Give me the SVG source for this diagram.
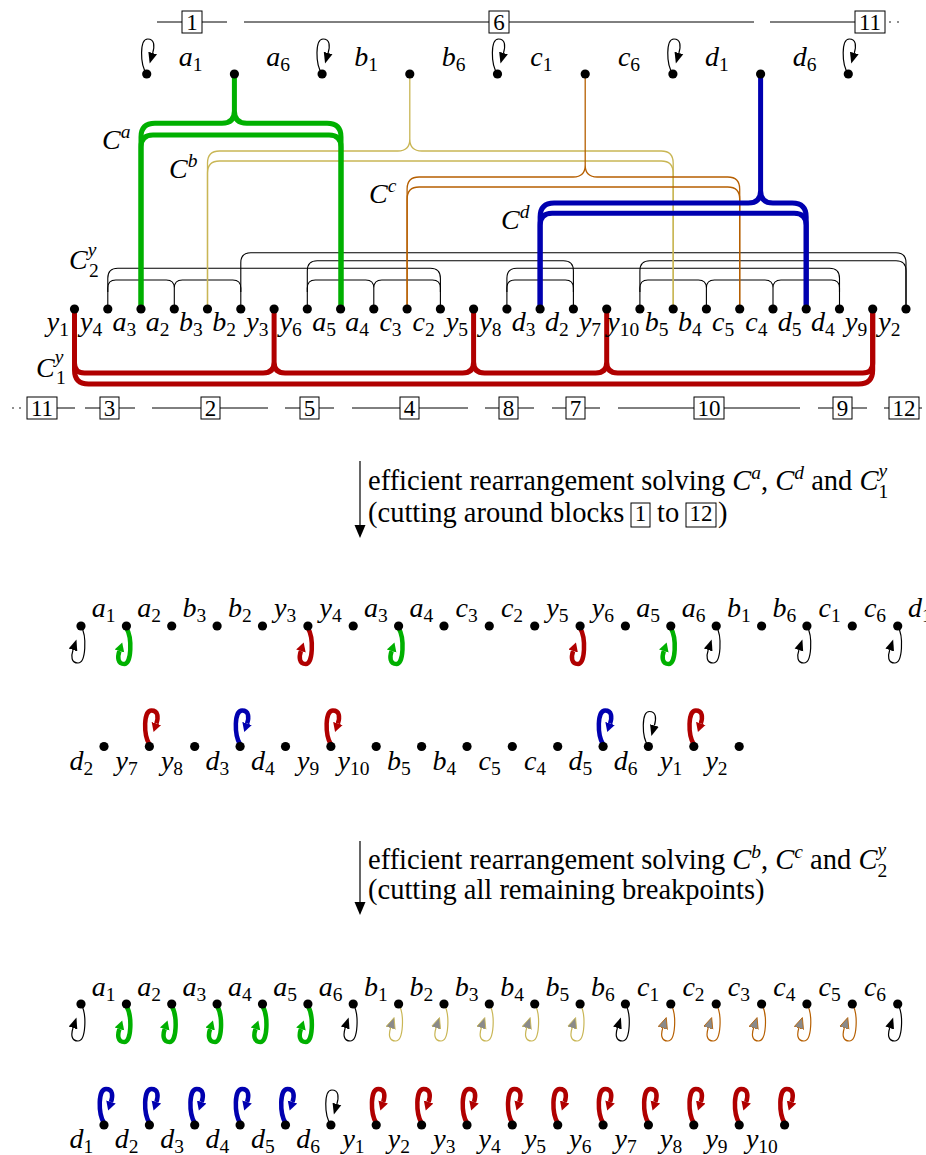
<svg xmlns="http://www.w3.org/2000/svg" width="926" height="1155" viewBox="0 0 926 1155">
<style>
.m{font-family:"Liberation Serif",serif;font-style:italic;font-size:28px;fill:#000}
.lab{text-anchor:middle}
.s{font-style:normal;font-size:19.5px}
.si{font-style:italic;font-size:19.5px}
.r{font-family:"Liberation Serif",serif;font-size:28.5px;fill:#000}
.i{font-style:italic}
.bx{fill:#fff;stroke:#000;stroke-width:1}
.bn{font-family:"Liberation Serif",serif;font-size:23px;text-anchor:middle;fill:#000}
.bl{stroke:#000;stroke-width:1;fill:none}
.ck{fill:none;stroke:#000;stroke-width:1.1}
.cy{fill:none;stroke:#c9b655;stroke-width:1.3}
.co{fill:none;stroke:#b65f00;stroke-width:1.3}
.cg{fill:none;stroke:#00b000;stroke-width:5}
.cb{fill:none;stroke:#0000b0;stroke-width:5}
.cr{fill:none;stroke:#b00000;stroke-width:5}
.lk{fill:none;stroke:#000;stroke-width:1.2;marker-end:url(#ak)}
.lg{fill:none;stroke:#00b000;stroke-width:4.5;marker-end:url(#ag)}
.lr{fill:none;stroke:#b00000;stroke-width:4.5;marker-end:url(#ar)}
.lB{fill:none;stroke:#0000b0;stroke-width:4.5;marker-end:url(#ab)}
.ly{fill:none;stroke:#c9b655;stroke-width:1.2;marker-end:url(#ay)}
.lo{fill:none;stroke:#b65f00;stroke-width:1.2;marker-end:url(#ao)}
.fa{stroke:#000;stroke-width:1.2;fill:none}
</style>
<defs>
<circle id="dot" r="4.6" fill="#000"/>
<path id="lu" d="M0,0 C-7,-10 -7,-35 1,-35 C8,-35 8,-28 6,-21"/>
<path id="ld" d="M0,0 C6,10 5,37 -3,37 C-10,37 -10,30 -8,24"/>
<path id="luT" d="M0,-2 C-6,-12 -6,-36 2,-36 C9,-36 9,-29 7,-23"/>
<path id="ldT" d="M0,2 C6,12 5,38 -2,38 C-9,38 -9,31 -7,25"/>
<marker id="ak" markerUnits="userSpaceOnUse" markerWidth="14" markerHeight="12" viewBox="0 -6 14 12" refX="0" refY="0" orient="auto"><path d="M0,-4.5 L11,0 L0,4.5 z" fill="#000"/></marker>
<marker id="ag" markerUnits="userSpaceOnUse" markerWidth="14" markerHeight="12" viewBox="0 -6 14 12" refX="0" refY="0" orient="auto"><path d="M0,-5 L9,0 L0,5 z" fill="#00b000"/></marker>
<marker id="ar" markerUnits="userSpaceOnUse" markerWidth="14" markerHeight="12" viewBox="0 -6 14 12" refX="0" refY="0" orient="auto"><path d="M0,-5 L9,0 L0,5 z" fill="#b00000"/></marker>
<marker id="ab" markerUnits="userSpaceOnUse" markerWidth="14" markerHeight="12" viewBox="0 -6 14 12" refX="0" refY="0" orient="auto"><path d="M0,-5 L9,0 L0,5 z" fill="#0000b0"/></marker>
<marker id="ay" markerUnits="userSpaceOnUse" markerWidth="14" markerHeight="12" viewBox="0 -6 14 12" refX="0" refY="0" orient="auto"><path d="M0,-4.8 L11,0 L0,4.8 z" fill="#8a8a8a" stroke="#c9b655" stroke-width="0.8"/></marker>
<marker id="ao" markerUnits="userSpaceOnUse" markerWidth="14" markerHeight="12" viewBox="0 -6 14 12" refX="0" refY="0" orient="auto"><path d="M0,-4.8 L11,0 L0,4.8 z" fill="#8a8a8a" stroke="#b65f00" stroke-width="0.8"/></marker>
</defs>

<!-- ===== Blocks (top) ===== -->
<g id="blocks-top">
<path class="bl" d="M157,22 H227 M244,22 H754 M770,22 H885"/>
<rect class="bx" x="182" y="11" width="20" height="22"/><text class="bn" x="192" y="29.5">1</text>
<rect class="bx" x="489" y="11" width="20" height="22"/><text class="bn" x="499" y="29.5">6</text>
<rect class="bx" x="855" y="11" width="30" height="22"/><text class="bn" x="870" y="29.5">11</text>
<circle cx="890" cy="22" r="0.8"/><circle cx="898" cy="22" r="0.8"/>
</g>

<!-- ===== Blocks (bottom) ===== -->
<g id="blocks-bottom">
<circle cx="13" cy="408" r="0.8"/><circle cx="20" cy="408" r="0.8"/>
<path class="bl" d="M27,408 H75 M85,408 H135 M152,408 H268 M285,408 H334 M352,408 H468 M485,408 H534 M552,408 H600 M618,408 H800 M818,408 H867 M884,408 H922"/>
<rect class="bx" x="27" y="397" width="30" height="22"/><text class="bn" x="42" y="415.5">11</text>
<rect class="bx" x="100" y="397" width="19" height="22"/><text class="bn" x="109.5" y="415.5">3</text>
<rect class="bx" x="201" y="397" width="19" height="22"/><text class="bn" x="210.5" y="415.5">2</text>
<rect class="bx" x="300" y="397" width="19" height="22"/><text class="bn" x="309.5" y="415.5">5</text>
<rect class="bx" x="400" y="397" width="19" height="22"/><text class="bn" x="409.5" y="415.5">4</text>
<rect class="bx" x="499" y="397" width="19" height="22"/><text class="bn" x="508.5" y="415.5">8</text>
<rect class="bx" x="566" y="397" width="19" height="22"/><text class="bn" x="575.5" y="415.5">7</text>
<rect class="bx" x="694" y="397" width="30" height="22"/><text class="bn" x="709" y="415.5">10</text>
<rect class="bx" x="833" y="397" width="19" height="22"/><text class="bn" x="842.5" y="415.5">9</text>
<rect class="bx" x="889" y="397" width="30" height="22"/><text class="bn" x="904" y="415.5">12</text>
</g>

<!-- ===== Connectors (cycles) ===== -->
<g id="connectors">
<g id="C2y">
<path class="ck" d="M107.8,309 V288 Q107.8,280 115.8,280 H166.3 Q174.3,280 174.3,288 V309 M174.3,288 Q174.3,280 182.3,280 H232.8 Q240.8,280 240.8,288 V309"/>
<path class="ck" d="M307.3,309 V288 Q307.3,280 315.3,280 H365.8 Q373.8,280 373.8,288 V309 M373.8,288 Q373.8,280 381.8,280 H432.4 Q440.4,280 440.4,288 V309"/>
<path class="ck" d="M506.9,309 V288 Q506.9,280 514.9,280 H565.4 Q573.4,280 573.4,288 V309"/>
<path class="ck" d="M639.9,309 V288 Q639.9,280 647.9,280 H698.4 Q706.4,280 706.4,288 V309 M706.4,288 Q706.4,280 714.4,280 H765 Q773,280 773,288 V309 M773,288 Q773,280 781,280 H831.5 Q839.5,280 839.5,288 V309"/>
<path class="ck" d="M107.8,292 V278.3 Q107.8,268.3 117.8,268.3 H430.4 Q440.4,268.3 440.4,278.3 V292"/>
<path class="ck" d="M506.9,292 V278.3 Q506.9,268.3 516.9,268.3 H829.5 Q839.5,268.3 839.5,278.3 V292"/>
<path class="ck" d="M307.3,292 V270.7 Q307.3,260.7 317.3,260.7 H563.4 Q573.4,260.7 573.4,270.7 V292"/>
<path class="ck" d="M639.9,292 V270.7 Q639.9,260.7 649.9,260.7 H896 Q906,260.7 906,270.7 V309"/>
<path class="ck" d="M240.8,292 V262.7 Q240.8,252.7 250.8,252.7 H896 Q906,252.7 906,262.7 V309"/>
</g>
<g id="Cb">
<path class="cy" d="M207.5,309 V163 Q207.5,151 219.5,151 H397.8 Q409.8,151 409.8,139 V74 M409.8,139 Q409.8,151 421.8,151 H661.2 Q673.2,151 673.2,163 V309"/>
<path class="cy" d="M207.5,309 V173 Q207.5,161 219.5,161 H661.2 Q673.2,161 673.2,173 V309"/>
</g>
<g id="Cc">
<path class="co" d="M407.1,309 V189 Q407.1,177 419.1,177 H573.2 Q585.2,177 585.2,165 V74 M585.2,165 Q585.2,177 597.2,177 H727.7 Q739.7,177 739.7,189 V309"/>
<path class="co" d="M407.1,309 V199 Q407.1,187 419.1,187 H727.7 Q739.7,187 739.7,199 V309"/>
</g>
<g id="Ca">
<path class="cg" d="M141,309 V137 Q141,123.3 155,123.3 H222 Q234.4,123.3 234.4,111 V74 M234.4,111 Q234.4,123.3 246.8,123.3 H327 Q341,123.3 341,137 V309"/>
<path class="cg" d="M141,309 V147 Q141,135 153,135 H329 Q341,135 341,147 V309"/>
</g>
<g id="Cd">
<path class="cb" d="M540.1,309 V217 Q540.1,203 554.1,203 H748.3 Q760.6,203 760.6,190.7 V74 M760.6,190.7 Q760.6,203 772.9,203 H792.2 Q806.2,203 806.2,217 V309"/>
<path class="cb" d="M540.1,309 V225.3 Q540.1,213.3 552.1,213.3 H794.2 Q806.2,213.3 806.2,225.3 V309"/>
</g>
<g id="C1y">
<path class="cr" d="M74.5,309 V363 Q74.5,373 84.5,373 H263.1 Q274.1,373 274.1,362 V309 M274.1,362 Q274.1,373 285.1,373 H462.6 Q473.6,373 473.6,362 V309 M473.6,362 Q473.6,373 484.6,373 H595.7 Q606.7,373 606.7,362 V309 M606.7,362 Q606.7,373 617.7,373 H862.7 Q872.7,373 872.7,363 V309"/>
<path class="cr" d="M74.5,309 V370 Q74.5,384 88.5,384 H858.7 Q872.7,384 872.7,370 V309"/>
</g>
</g>

<!-- cycle labels -->
<g id="cycle-labels" class="m">
<text x="102" y="149">C<tspan class="si" dy="-11">a</tspan></text>
<text x="169" y="177.5">C<tspan class="si" dy="-11">b</tspan></text>
<text x="369" y="202.5">C<tspan class="si" dy="-11">c</tspan></text>
<text x="501" y="229">C<tspan class="si" dy="-11">d</tspan></text>
<text x="69" y="269">C<tspan class="si" dy="-13">y</tspan><tspan class="s" x="89" dy="21">2</tspan></text>
<text x="36" y="377">C<tspan class="si" dy="-14">y</tspan><tspan class="s" x="56" dy="21">1</tspan></text>
</g>

<!-- ===== Top genome ===== -->
<g id="top-genome">
<g id="t0"><use href="#lu" x="146.7" y="74" class="lk"/><use href="#dot" x="146.7" y="74"/><text class="m lab" x="190.5" y="66">a<tspan class="s" dy="5">1</tspan></text></g>
<g id="t1"><use href="#dot" x="234.4" y="74"/><text class="m lab" x="278.2" y="66">a<tspan class="s" dy="5">6</tspan></text></g>
<g id="t2"><use href="#lu" x="322.1" y="74" class="lk"/><use href="#dot" x="322.1" y="74"/><text class="m lab" x="366" y="66">b<tspan class="s" dy="5">1</tspan></text></g>
<g id="t3"><use href="#dot" x="409.8" y="74"/><text class="m lab" x="453.7" y="66">b<tspan class="s" dy="5">6</tspan></text></g>
<g id="t4"><use href="#lu" x="497.5" y="74" class="lk"/><use href="#dot" x="497.5" y="74"/><text class="m lab" x="541.3" y="66">c<tspan class="s" dy="5">1</tspan></text></g>
<g id="t5"><use href="#dot" x="585.2" y="74"/><text class="m lab" x="629" y="66">c<tspan class="s" dy="5">6</tspan></text></g>
<g id="t6"><use href="#lu" x="672.9" y="74" class="lk"/><use href="#dot" x="672.9" y="74"/><text class="m lab" x="716.8" y="66">d<tspan class="s" dy="5">1</tspan></text></g>
<g id="t7"><use href="#dot" x="760.6" y="74"/><text class="m lab" x="804.5" y="66">d<tspan class="s" dy="5">6</tspan></text></g>
<g id="t8"><use href="#lu" x="848.3" y="74" class="lk"/><use href="#dot" x="848.3" y="74"/></g>
</g>

<!-- ===== Bottom genome ===== -->
<g id="bottom-genome">
<g id="b0"><use href="#dot" x="74.5" y="309"/><text class="m lab" x="57.9" y="331">y<tspan class="s" dy="5">1</tspan></text></g>
<g id="b1"><use href="#dot" x="107.8" y="309"/><text class="m lab" x="91.1" y="331">y<tspan class="s" dy="5">4</tspan></text></g>
<g id="b2"><use href="#dot" x="141" y="309"/><text class="m lab" x="124.4" y="331">a<tspan class="s" dy="5">3</tspan></text></g>
<g id="b3"><use href="#dot" x="174.3" y="309"/><text class="m lab" x="157.7" y="331">a<tspan class="s" dy="5">2</tspan></text></g>
<g id="b4"><use href="#dot" x="207.5" y="309"/><text class="m lab" x="190.9" y="331">b<tspan class="s" dy="5">3</tspan></text></g>
<g id="b5"><use href="#dot" x="240.8" y="309"/><text class="m lab" x="224.2" y="331">b<tspan class="s" dy="5">2</tspan></text></g>
<g id="b6"><use href="#dot" x="274.1" y="309"/><text class="m lab" x="257.4" y="331">y<tspan class="s" dy="5">3</tspan></text></g>
<g id="b7"><use href="#dot" x="307.3" y="309"/><text class="m lab" x="290.7" y="331">y<tspan class="s" dy="5">6</tspan></text></g>
<g id="b8"><use href="#dot" x="340.6" y="309"/><text class="m lab" x="324" y="331">a<tspan class="s" dy="5">5</tspan></text></g>
<g id="b9"><use href="#dot" x="373.8" y="309"/><text class="m lab" x="357.2" y="331">a<tspan class="s" dy="5">4</tspan></text></g>
<g id="b10"><use href="#dot" x="407.1" y="309"/><text class="m lab" x="390.5" y="331">c<tspan class="s" dy="5">3</tspan></text></g>
<g id="b11"><use href="#dot" x="440.4" y="309"/><text class="m lab" x="423.7" y="331">c<tspan class="s" dy="5">2</tspan></text></g>
<g id="b12"><use href="#dot" x="473.6" y="309"/><text class="m lab" x="457" y="331">y<tspan class="s" dy="5">5</tspan></text></g>
<g id="b13"><use href="#dot" x="506.9" y="309"/><text class="m lab" x="490.3" y="331">y<tspan class="s" dy="5">8</tspan></text></g>
<g id="b14"><use href="#dot" x="540.1" y="309"/><text class="m lab" x="523.5" y="331">d<tspan class="s" dy="5">3</tspan></text></g>
<g id="b15"><use href="#dot" x="573.4" y="309"/><text class="m lab" x="556.8" y="331">d<tspan class="s" dy="5">2</tspan></text></g>
<g id="b16"><use href="#dot" x="606.7" y="309"/><text class="m lab" x="590" y="331">y<tspan class="s" dy="5">7</tspan></text></g>
<g id="b17"><use href="#dot" x="639.9" y="309"/><text class="m lab" x="623.3" y="331">y<tspan class="s" dy="5">10</tspan></text></g>
<g id="b18"><use href="#dot" x="673.2" y="309"/><text class="m lab" x="656.6" y="331">b<tspan class="s" dy="5">5</tspan></text></g>
<g id="b19"><use href="#dot" x="706.4" y="309"/><text class="m lab" x="689.8" y="331">b<tspan class="s" dy="5">4</tspan></text></g>
<g id="b20"><use href="#dot" x="739.7" y="309"/><text class="m lab" x="723.1" y="331">c<tspan class="s" dy="5">5</tspan></text></g>
<g id="b21"><use href="#dot" x="773" y="309"/><text class="m lab" x="756.3" y="331">c<tspan class="s" dy="5">4</tspan></text></g>
<g id="b22"><use href="#dot" x="806.2" y="309"/><text class="m lab" x="789.6" y="331">d<tspan class="s" dy="5">5</tspan></text></g>
<g id="b23"><use href="#dot" x="839.5" y="309"/><text class="m lab" x="822.9" y="331">d<tspan class="s" dy="5">4</tspan></text></g>
<g id="b24"><use href="#dot" x="872.7" y="309"/><text class="m lab" x="856.1" y="331">y<tspan class="s" dy="5">9</tspan></text></g>
<g id="b25"><use href="#dot" x="906" y="309"/><text class="m lab" x="889.4" y="331">y<tspan class="s" dy="5">2</tspan></text></g>
</g>

<!-- ===== Flow arrow 1 ===== -->
<g id="step1">
<line class="fa" x1="360" y1="461" x2="360" y2="527"/>
<path d="M354.5,525 L365.5,525 L360,538 z" fill="#000"/>
<text class="r" x="368" y="490">efficient rearrangement solving <tspan class="i">C</tspan><tspan class="si" dy="-11">a</tspan><tspan dy="11">, </tspan><tspan class="i">C</tspan><tspan class="si" dy="-11">d</tspan><tspan dy="11"> and </tspan><tspan class="i">C</tspan><tspan class="si" dy="-13">y</tspan><tspan class="s" dx="-8.6" dy="21">1</tspan></text>
<text class="r" x="368" y="522">(cutting around blocks</text>
<rect class="bx" x="631" y="503" width="19" height="24"/><text class="bn" x="640.5" y="521">1</text>
<text class="r" x="657" y="522">to</text>
<rect class="bx" x="686" y="503" width="30" height="24"/><text class="bn" x="701" y="521">12</text>
<text class="r" x="718" y="522">)</text>
</g>

<!-- ===== Intermediate genome, row 1 ===== -->
<g id="mid-row1">
<g id="m0"><use href="#ld" x="81" y="626" class="lk"/><use href="#dot" x="81" y="626"/><text class="m lab" x="103.7" y="617">a<tspan class="s" dy="5">1</tspan></text></g>
<g id="m1"><use href="#ldT" x="126.4" y="626" class="lg"/><use href="#dot" x="126.4" y="626"/><text class="m lab" x="149.1" y="617">a<tspan class="s" dy="5">2</tspan></text></g>
<g id="m2"><use href="#dot" x="171.7" y="626"/><text class="m lab" x="194.4" y="617">b<tspan class="s" dy="5">3</tspan></text></g>
<g id="m3"><use href="#dot" x="217.1" y="626"/><text class="m lab" x="239.8" y="617">b<tspan class="s" dy="5">2</tspan></text></g>
<g id="m4"><use href="#dot" x="262.5" y="626"/><text class="m lab" x="285.2" y="617">y<tspan class="s" dy="5">3</tspan></text></g>
<g id="m5"><use href="#ldT" x="307.9" y="626" class="lr"/><use href="#dot" x="307.9" y="626"/><text class="m lab" x="330.6" y="617">y<tspan class="s" dy="5">4</tspan></text></g>
<g id="m6"><use href="#dot" x="353.2" y="626"/><text class="m lab" x="375.9" y="617">a<tspan class="s" dy="5">3</tspan></text></g>
<g id="m7"><use href="#ldT" x="398.6" y="626" class="lg"/><use href="#dot" x="398.6" y="626"/><text class="m lab" x="421.3" y="617">a<tspan class="s" dy="5">4</tspan></text></g>
<g id="m8"><use href="#dot" x="444" y="626"/><text class="m lab" x="466.7" y="617">c<tspan class="s" dy="5">3</tspan></text></g>
<g id="m9"><use href="#dot" x="489.3" y="626"/><text class="m lab" x="512" y="617">c<tspan class="s" dy="5">2</tspan></text></g>
<g id="m10"><use href="#dot" x="534.7" y="626"/><text class="m lab" x="557.4" y="617">y<tspan class="s" dy="5">5</tspan></text></g>
<g id="m11"><use href="#ldT" x="580.1" y="626" class="lr"/><use href="#dot" x="580.1" y="626"/><text class="m lab" x="602.8" y="617">y<tspan class="s" dy="5">6</tspan></text></g>
<g id="m12"><use href="#dot" x="625.4" y="626"/><text class="m lab" x="648.1" y="617">a<tspan class="s" dy="5">5</tspan></text></g>
<g id="m13"><use href="#ldT" x="670.8" y="626" class="lg"/><use href="#dot" x="670.8" y="626"/><text class="m lab" x="693.5" y="617">a<tspan class="s" dy="5">6</tspan></text></g>
<g id="m14"><use href="#ld" x="716.2" y="626" class="lk"/><use href="#dot" x="716.2" y="626"/><text class="m lab" x="738.9" y="617">b<tspan class="s" dy="5">1</tspan></text></g>
<g id="m15"><use href="#dot" x="761.6" y="626"/><text class="m lab" x="784.3" y="617">b<tspan class="s" dy="5">6</tspan></text></g>
<g id="m16"><use href="#ld" x="806.9" y="626" class="lk"/><use href="#dot" x="806.9" y="626"/><text class="m lab" x="829.6" y="617">c<tspan class="s" dy="5">1</tspan></text></g>
<g id="m17"><use href="#dot" x="852.3" y="626"/><text class="m lab" x="875" y="617">c<tspan class="s" dy="5">6</tspan></text></g>
<g id="m18"><use href="#ld" x="897.7" y="626" class="lk"/><use href="#dot" x="897.7" y="626"/><text class="m" x="908" y="617">d<tspan class="s" dy="5">1</tspan></text></g>
</g>

<!-- ===== Intermediate genome, row 2 ===== -->
<g id="mid-row2">
<g id="n0"><use href="#dot" x="104" y="746.5"/><text class="m lab" x="81.3" y="770">d<tspan class="s" dy="5">2</tspan></text></g>
<g id="n1"><use href="#luT" x="149.4" y="746.5" class="lr"/><use href="#dot" x="149.4" y="746.5"/><text class="m lab" x="126.7" y="770">y<tspan class="s" dy="5">7</tspan></text></g>
<g id="n2"><use href="#dot" x="194.7" y="746.5"/><text class="m lab" x="172" y="770">y<tspan class="s" dy="5">8</tspan></text></g>
<g id="n3"><use href="#luT" x="240.1" y="746.5" class="lB"/><use href="#dot" x="240.1" y="746.5"/><text class="m lab" x="217.4" y="770">d<tspan class="s" dy="5">3</tspan></text></g>
<g id="n4"><use href="#dot" x="285.5" y="746.5"/><text class="m lab" x="262.8" y="770">d<tspan class="s" dy="5">4</tspan></text></g>
<g id="n5"><use href="#luT" x="330.9" y="746.5" class="lr"/><use href="#dot" x="330.9" y="746.5"/><text class="m lab" x="308.2" y="770">y<tspan class="s" dy="5">9</tspan></text></g>
<g id="n6"><use href="#dot" x="376.2" y="746.5"/><text class="m lab" x="353.5" y="770">y<tspan class="s" dy="5">10</tspan></text></g>
<g id="n7"><use href="#dot" x="421.6" y="746.5"/><text class="m lab" x="398.9" y="770">b<tspan class="s" dy="5">5</tspan></text></g>
<g id="n8"><use href="#dot" x="467" y="746.5"/><text class="m lab" x="444.3" y="770">b<tspan class="s" dy="5">4</tspan></text></g>
<g id="n9"><use href="#dot" x="512.3" y="746.5"/><text class="m lab" x="489.6" y="770">c<tspan class="s" dy="5">5</tspan></text></g>
<g id="n10"><use href="#dot" x="557.7" y="746.5"/><text class="m lab" x="535" y="770">c<tspan class="s" dy="5">4</tspan></text></g>
<g id="n11"><use href="#luT" x="603.1" y="746.5" class="lB"/><use href="#dot" x="603.1" y="746.5"/><text class="m lab" x="580.4" y="770">d<tspan class="s" dy="5">5</tspan></text></g>
<g id="n12"><use href="#lu" x="648.4" y="746.5" class="lk"/><use href="#dot" x="648.4" y="746.5"/><text class="m lab" x="625.7" y="770">d<tspan class="s" dy="5">6</tspan></text></g>
<g id="n13"><use href="#luT" x="693.8" y="746.5" class="lr"/><use href="#dot" x="693.8" y="746.5"/><text class="m lab" x="671.1" y="770">y<tspan class="s" dy="5">1</tspan></text></g>
<g id="n14"><use href="#dot" x="739.2" y="746.5"/><text class="m lab" x="716.5" y="770">y<tspan class="s" dy="5">2</tspan></text></g>
</g>

<!-- ===== Flow arrow 2 ===== -->
<g id="step2">
<line class="fa" x1="360" y1="841" x2="360" y2="904"/>
<path d="M354.5,902 L365.5,902 L360,915 z" fill="#000"/>
<text class="r" x="368" y="869">efficient rearrangement solving <tspan class="i">C</tspan><tspan class="si" dy="-11">b</tspan><tspan dy="11">, </tspan><tspan class="i">C</tspan><tspan class="si" dy="-11">c</tspan><tspan dy="11"> and </tspan><tspan class="i">C</tspan><tspan class="si" dy="-13">y</tspan><tspan class="s" dx="-8.6" dy="21">2</tspan></text>
<text class="r" x="368" y="899">(cutting all remaining breakpoints)</text>
</g>

<!-- ===== Final genome, row 1 ===== -->
<g id="fin-row1">
<g id="f0"><use href="#ld" x="81" y="1004" class="lk"/><use href="#dot" x="81" y="1004"/><text class="m lab" x="103.7" y="996">a<tspan class="s" dy="5">1</tspan></text></g>
<g id="f1"><use href="#ldT" x="126.4" y="1004" class="lg"/><use href="#dot" x="126.4" y="1004"/><text class="m lab" x="149.1" y="996">a<tspan class="s" dy="5">2</tspan></text></g>
<g id="f2"><use href="#ldT" x="171.7" y="1004" class="lg"/><use href="#dot" x="171.7" y="1004"/><text class="m lab" x="194.4" y="996">a<tspan class="s" dy="5">3</tspan></text></g>
<g id="f3"><use href="#ldT" x="217.1" y="1004" class="lg"/><use href="#dot" x="217.1" y="1004"/><text class="m lab" x="239.8" y="996">a<tspan class="s" dy="5">4</tspan></text></g>
<g id="f4"><use href="#ldT" x="262.5" y="1004" class="lg"/><use href="#dot" x="262.5" y="1004"/><text class="m lab" x="285.2" y="996">a<tspan class="s" dy="5">5</tspan></text></g>
<g id="f5"><use href="#ldT" x="307.9" y="1004" class="lg"/><use href="#dot" x="307.9" y="1004"/><text class="m lab" x="330.6" y="996">a<tspan class="s" dy="5">6</tspan></text></g>
<g id="f6"><use href="#ld" x="353.2" y="1004" class="lk"/><use href="#dot" x="353.2" y="1004"/><text class="m lab" x="375.9" y="996">b<tspan class="s" dy="5">1</tspan></text></g>
<g id="f7"><use href="#ld" x="398.6" y="1004" class="ly"/><use href="#dot" x="398.6" y="1004"/><text class="m lab" x="421.3" y="996">b<tspan class="s" dy="5">2</tspan></text></g>
<g id="f8"><use href="#ld" x="444" y="1004" class="ly"/><use href="#dot" x="444" y="1004"/><text class="m lab" x="466.7" y="996">b<tspan class="s" dy="5">3</tspan></text></g>
<g id="f9"><use href="#ld" x="489.3" y="1004" class="ly"/><use href="#dot" x="489.3" y="1004"/><text class="m lab" x="512" y="996">b<tspan class="s" dy="5">4</tspan></text></g>
<g id="f10"><use href="#ld" x="534.7" y="1004" class="ly"/><use href="#dot" x="534.7" y="1004"/><text class="m lab" x="557.4" y="996">b<tspan class="s" dy="5">5</tspan></text></g>
<g id="f11"><use href="#ld" x="580.1" y="1004" class="ly"/><use href="#dot" x="580.1" y="1004"/><text class="m lab" x="602.8" y="996">b<tspan class="s" dy="5">6</tspan></text></g>
<g id="f12"><use href="#ld" x="625.4" y="1004" class="lk"/><use href="#dot" x="625.4" y="1004"/><text class="m lab" x="648.1" y="996">c<tspan class="s" dy="5">1</tspan></text></g>
<g id="f13"><use href="#ld" x="670.8" y="1004" class="lo"/><use href="#dot" x="670.8" y="1004"/><text class="m lab" x="693.5" y="996">c<tspan class="s" dy="5">2</tspan></text></g>
<g id="f14"><use href="#ld" x="716.2" y="1004" class="lo"/><use href="#dot" x="716.2" y="1004"/><text class="m lab" x="738.9" y="996">c<tspan class="s" dy="5">3</tspan></text></g>
<g id="f15"><use href="#ld" x="761.6" y="1004" class="lo"/><use href="#dot" x="761.6" y="1004"/><text class="m lab" x="784.3" y="996">c<tspan class="s" dy="5">4</tspan></text></g>
<g id="f16"><use href="#ld" x="806.9" y="1004" class="lo"/><use href="#dot" x="806.9" y="1004"/><text class="m lab" x="829.6" y="996">c<tspan class="s" dy="5">5</tspan></text></g>
<g id="f17"><use href="#ld" x="852.3" y="1004" class="lo"/><use href="#dot" x="852.3" y="1004"/><text class="m lab" x="875" y="996">c<tspan class="s" dy="5">6</tspan></text></g>
<g id="f18"><use href="#ld" x="897.7" y="1004" class="lk"/><use href="#dot" x="897.7" y="1004"/></g>
</g>

<!-- ===== Final genome, row 2 ===== -->
<g id="fin-row2">
<g id="g0"><use href="#luT" x="104" y="1125" class="lB"/><use href="#dot" x="104" y="1125"/><text class="m lab" x="81.3" y="1148">d<tspan class="s" dy="5">1</tspan></text></g>
<g id="g1"><use href="#luT" x="149.4" y="1125" class="lB"/><use href="#dot" x="149.4" y="1125"/><text class="m lab" x="126.7" y="1148">d<tspan class="s" dy="5">2</tspan></text></g>
<g id="g2"><use href="#luT" x="194.7" y="1125" class="lB"/><use href="#dot" x="194.7" y="1125"/><text class="m lab" x="172" y="1148">d<tspan class="s" dy="5">3</tspan></text></g>
<g id="g3"><use href="#luT" x="240.1" y="1125" class="lB"/><use href="#dot" x="240.1" y="1125"/><text class="m lab" x="217.4" y="1148">d<tspan class="s" dy="5">4</tspan></text></g>
<g id="g4"><use href="#luT" x="285.5" y="1125" class="lB"/><use href="#dot" x="285.5" y="1125"/><text class="m lab" x="262.8" y="1148">d<tspan class="s" dy="5">5</tspan></text></g>
<g id="g5"><use href="#lu" x="330.9" y="1125" class="lk"/><use href="#dot" x="330.9" y="1125"/><text class="m lab" x="308.2" y="1148">d<tspan class="s" dy="5">6</tspan></text></g>
<g id="g6"><use href="#luT" x="376.2" y="1125" class="lr"/><use href="#dot" x="376.2" y="1125"/><text class="m lab" x="353.5" y="1148">y<tspan class="s" dy="5">1</tspan></text></g>
<g id="g7"><use href="#luT" x="421.6" y="1125" class="lr"/><use href="#dot" x="421.6" y="1125"/><text class="m lab" x="398.9" y="1148">y<tspan class="s" dy="5">2</tspan></text></g>
<g id="g8"><use href="#luT" x="467" y="1125" class="lr"/><use href="#dot" x="467" y="1125"/><text class="m lab" x="444.3" y="1148">y<tspan class="s" dy="5">3</tspan></text></g>
<g id="g9"><use href="#luT" x="512.3" y="1125" class="lr"/><use href="#dot" x="512.3" y="1125"/><text class="m lab" x="489.6" y="1148">y<tspan class="s" dy="5">4</tspan></text></g>
<g id="g10"><use href="#luT" x="557.7" y="1125" class="lr"/><use href="#dot" x="557.7" y="1125"/><text class="m lab" x="535" y="1148">y<tspan class="s" dy="5">5</tspan></text></g>
<g id="g11"><use href="#luT" x="603.1" y="1125" class="lr"/><use href="#dot" x="603.1" y="1125"/><text class="m lab" x="580.4" y="1148">y<tspan class="s" dy="5">6</tspan></text></g>
<g id="g12"><use href="#luT" x="648.4" y="1125" class="lr"/><use href="#dot" x="648.4" y="1125"/><text class="m lab" x="625.7" y="1148">y<tspan class="s" dy="5">7</tspan></text></g>
<g id="g13"><use href="#luT" x="693.8" y="1125" class="lr"/><use href="#dot" x="693.8" y="1125"/><text class="m lab" x="671.1" y="1148">y<tspan class="s" dy="5">8</tspan></text></g>
<g id="g14"><use href="#luT" x="739.2" y="1125" class="lr"/><use href="#dot" x="739.2" y="1125"/><text class="m lab" x="716.5" y="1148">y<tspan class="s" dy="5">9</tspan></text></g>
<g id="g15"><use href="#luT" x="784.6" y="1125" class="lr"/><use href="#dot" x="784.6" y="1125"/><text class="m lab" x="761.9" y="1148">y<tspan class="s" dy="5">10</tspan></text></g>
</g>
</svg>
